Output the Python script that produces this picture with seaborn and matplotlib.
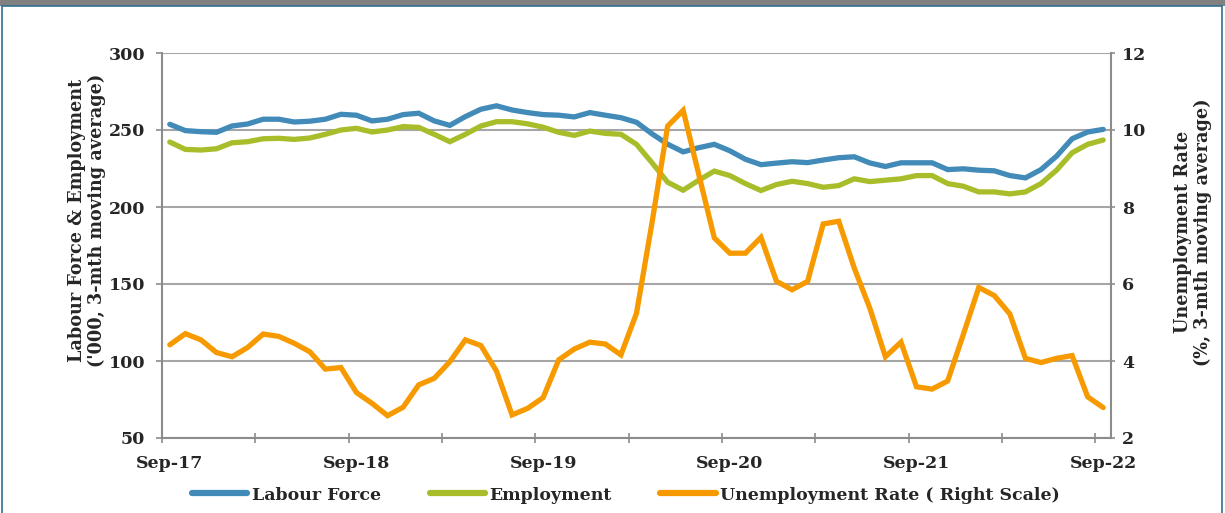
import numpy as np
import pandas as pd
import matplotlib
matplotlib.use("Agg")
import matplotlib.pyplot as plt
import seaborn as sns
from matplotlib.patches import Rectangle
from matplotlib.lines import Line2D

# ---------------- data ----------------
month_labels = ["Sep-17", "Sep-18", "Sep-19", "Sep-20", "Sep-21", "Sep-22"]

labour_force = [253.7, 249.6, 248.9, 248.5, 252.6, 253.9, 257.0, 257.0, 255.2, 255.7,
                257.0, 260.2, 259.6, 255.9, 257.0, 260.0, 260.9, 255.9, 253.0, 258.7,
                263.5, 265.7, 263.0, 261.3, 260.0, 259.6, 258.5, 261.3, 259.6, 258.0,
                255.0, 247.5, 240.8, 235.8, 238.5, 240.7, 236.5, 231.0, 227.5, 228.5,
                229.4, 228.8, 230.5, 232.0, 232.6, 228.6, 226.3, 228.7, 228.7, 228.7,
                224.3, 224.8, 223.9, 223.5, 220.4, 218.9, 224.3, 233.0, 244.3, 248.7,
                250.4]

employment = [242.2, 237.4, 237.0, 237.8, 241.7, 242.4, 244.3, 244.6, 243.9, 244.8,
              247.2, 250.0, 251.1, 248.7, 250.0, 252.2, 251.7, 247.2, 242.4, 247.2,
              252.6, 255.4, 255.4, 254.0, 251.8, 248.5, 246.5, 249.3, 247.8, 247.2,
              240.7, 228.7, 216.1, 210.9, 217.4, 223.3, 220.4, 215.2, 210.7, 214.6,
              216.7, 215.2, 212.8, 213.9, 218.3, 216.5, 217.4, 218.3, 220.4, 220.4,
              215.2, 213.5, 209.8, 209.8, 208.5, 209.8, 215.2, 223.9, 235.2, 240.7,
              243.5]

unemployment_rate = [4.42, 4.71, 4.55, 4.22, 4.11, 4.35, 4.70, 4.64, 4.46, 4.24,
                     3.79, 3.83, 3.18, 2.90, 2.58, 2.80, 3.38, 3.55, 3.98, 4.55,
                     4.40, 3.74, 2.60, 2.77, 3.05, 4.03, 4.31, 4.49, 4.44, 4.16,
                     5.24, 7.60, 10.10, 10.51, 8.85, 7.20, 6.80, 6.80, 7.21, 6.07,
                     5.85, 6.07, 7.56, 7.63, 6.41, 5.37, 4.11, 4.49, 3.33, 3.27,
                     3.48, 4.68, 5.91, 5.70, 5.22, 4.07, 3.96, 4.07, 4.14, 3.07,
                     2.79]

series_names = ["Labour Force", "Employment", "Unemployment Rate ( Right Scale)"]

# ---------------- style ----------------
sns.set_theme(style="white")
plt.rcParams["font.family"] = ["DejaVu Serif"]
plt.rcParams["font.weight"] = "bold"

BLUE = "#428bb8"
GREEN = "#a9bd2b"
ORANGE = "#f79a00"
GRID = "#a6a6a6"
SPINE = "#8c8c8c"
TXT = "#262626"

W, H = 1225, 513
fig = plt.figure(figsize=(W / 100, H / 100), dpi=100)

# decorative frame
fig.patches.append(Rectangle((0, 1 - 6 / H), 1, 6 / H, transform=fig.transFigure,
                             facecolor="#808080", edgecolor="none", zorder=0))
fig.patches.append(Rectangle((2 / W, -0.05), (1220) / W, 1 - 6 / H + 0.05,
                             transform=fig.transFigure, facecolor="none",
                             edgecolor="#31708f", lw=1.2, zorder=0))

left, right, top, bottom = 162, 1111, 53, 438
ax = fig.add_axes([left / W, 1 - bottom / H, (right - left) / W, (bottom - top) / H])
ax2 = ax.twinx()

df = pd.DataFrame({
    "idx": np.arange(len(labour_force)),
    "lf": labour_force,
    "emp": employment,
    "ur": unemployment_rate,
})

sns.lineplot(data=df, x="idx", y="lf", ax=ax, color=BLUE, lw=3.8, legend=False, zorder=3)
sns.lineplot(data=df, x="idx", y="emp", ax=ax, color=GREEN, lw=3.8, legend=False, zorder=3)
sns.lineplot(data=df, x="idx", y="ur", ax=ax2, color=ORANGE, lw=3.8, legend=False, zorder=3)
for l in ax.lines + ax2.lines:
    l.set_solid_capstyle("round")
    l.set_solid_joinstyle("miter")

ax.set_xlim(-0.5, 60.5)
ax.set_ylim(50, 300)
ax2.set_ylim(2, 12)
ax.set_yticks(np.arange(50, 301, 50))
ax2.set_yticks(np.arange(2, 13, 2))

ax.set_xticks(np.arange(-0.5, 60, 6))
ax.set_xticklabels([])
ax.set_xticks(np.arange(0, 61, 12), minor=True)
ax.set_xticklabels(month_labels, minor=True)

ax.grid(False)
ax2.grid(False)
ax.yaxis.grid(True, color=GRID, lw=1.5)
ax.set_axisbelow(True)

for a in (ax, ax2):
    for s in a.spines.values():
        s.set_visible(False)
    a.set_xlabel("")
    a.set_ylabel("")
ax.spines["left"].set_visible(True)
ax.spines["bottom"].set_visible(True)
ax2.spines["right"].set_visible(True)
for s in (ax.spines["left"], ax.spines["bottom"], ax2.spines["right"]):
    s.set_color(SPINE)
    s.set_linewidth(1.5)

FS = 12.5
ax.tick_params(axis="x", which="major", direction="inout", length=7, width=1.2,
               color=SPINE, bottom=True)
ax.tick_params(axis="x", which="minor", length=0, pad=12, labelsize=FS,
               labelcolor=TXT, bottom=True)
ax.tick_params(axis="y", which="major", direction="out", length=4, width=1.2,
               color=SPINE, left=True, pad=8, labelsize=FS, labelcolor=TXT)
ax2.tick_params(axis="y", which="major", direction="out", length=3, width=1.2,
                color=SPINE, right=True, pad=5, labelsize=FS, labelcolor=TXT)
for t in ax.get_xticklabels(minor=True) + ax.get_yticklabels() + ax2.get_yticklabels():
    t.set_fontweight("bold")

fig.text(87 / W, 1 - 220 / H, "Labour Force & Employment\n('000, 3-mth moving average)",
         rotation=90, ha="center", va="center", multialignment="center",
         fontsize=12.7, fontweight="bold", color=TXT, linespacing=1.15)
fig.text(1193 / W, 1 - 232 / H, "Unemployment Rate\n(%, 3-mth moving average)",
         rotation=90, ha="center", va="center", multialignment="center",
         fontsize=12.7, fontweight="bold", color=TXT, linespacing=1.15)

handles = [Line2D([], [], color=c, lw=4.5, solid_capstyle="round")
           for c in (BLUE, GREEN, ORANGE)]
leg = fig.legend(handles, series_names, loc="center", bbox_to_anchor=(626 / W, 1 - 495 / H),
                 ncol=3, frameon=False, fontsize=FS, handlelength=3.2,
                 handletextpad=0.25, columnspacing=2.8, borderpad=0)
for t in leg.get_texts():
    t.set_color(TXT)
    t.set_fontweight("bold")

fig.savefig("out.png", dpi=100)
